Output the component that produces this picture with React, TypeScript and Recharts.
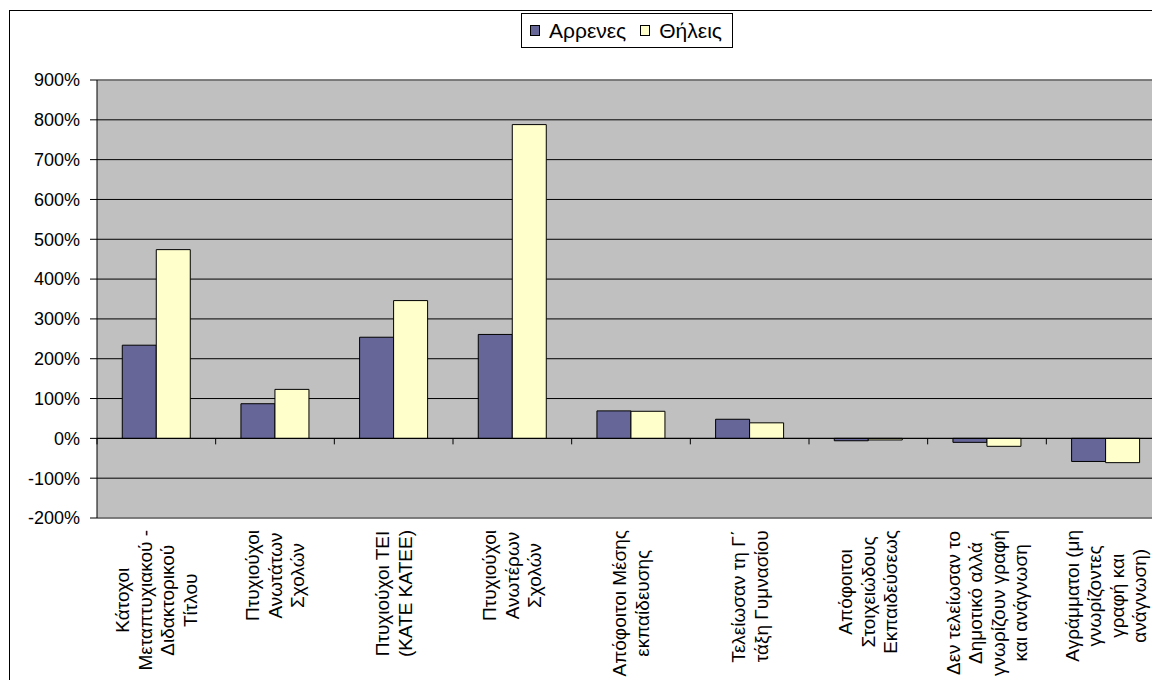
import React from "react";
import {
  BarChart,
  Bar,
  XAxis,
  YAxis,
  CartesianGrid,
  ReferenceLine,
  Legend,
} from "recharts";

// ---- data ----
const categoryLines: string[][] = [
  ["Κάτοχοι", "Μεταπτυχιακού -", "Διδακτορικού", "Τίτλου"],
  ["Πτυχιούχοι", "Ανωτάτων", "Σχολών"],
  ["Πτυχιούχοι ΤΕΙ", "(ΚΑΤΕ ΚΑΤΕΕ)"],
  ["Πτυχιούχοι", "Ανωτέρων", "Σχολών"],
  ["Απόφοιτοι Μέσης", "εκπαίδευσης"],
  ["Τελείωσαν τη Γ΄", "τάξη Γυμνασίου"],
  ["Απόφοιτοι", "Στοιχειώδους", "Εκπαιδεύσεως"],
  ["Δεν τελείωσαν το", "Δημοτικό αλλά", "γνωρίζουν γραφή", "και ανάγνωση"],
  ["Αγράμματοι (μη", "γνωρίζοντες", "γραφή και", "ανάγνωση)"],
];
const categories: string[] = categoryLines.map((l) => l.join(" "));
const arrenes: number[] = [234, 87, 254, 261, 69, 48, -6, -10, -58];
const thileis: number[] = [474, 123, 346, 788, 68, 39, -4, -20, -61];
const yTicks: number[] = [-200, -100, 0, 100, 200, 300, 400, 500, 600, 700, 800, 900];
const seriesNames = ["Αρρενες", "Θήλεις"];

const data = categories.map((c, i) => ({
  name: c,
  arrenes: arrenes[i],
  thileis: thileis[i],
}));

const FONT = '"Liberation Sans", Arial, sans-serif';
const TICK_FS = 18;
const LABEL_FS = 19;
const LEGEND_FS = 21;
const LINE_H = 22.5;

let ctx: CanvasRenderingContext2D | null = null;
function measure(t: string, fs: number): number {
  if (!ctx) ctx = document.createElement("canvas").getContext("2d");
  if (!ctx) return t.length * fs * 0.5;
  ctx.font = `${fs}px "Liberation Sans", Arial, sans-serif`;
  return ctx.measureText(t).width;
}

const CategoryTick = (props: any) => {
  const { x, y, payload } = props;
  const idx = categories.indexOf(payload.value);
  const lines = categoryLines[idx] || [];
  const n = lines.length;
  const w = Math.max(...lines.map((l) => measure(l, LABEL_FS)));
  const cx = -(12 + w / 2);
  return (
    <g transform={`translate(${x},${y}) rotate(-90)`}>
      <text textAnchor="middle" fontSize={LABEL_FS} fontFamily={FONT} fill="#000">
        {lines.map((l, i) => (
          <tspan key={i} x={cx} y={(i - (n - 1) / 2) * LINE_H} dy="0.35em">
            {l}
          </tspan>
        ))}
      </text>
    </g>
  );
};

const ZeroAxis = (props: any) => {
  const { x1, y1, x2, y2 } = props;
  const n = categories.length;
  const step = (x2 - x1) / n;
  const marks = [];
  for (let i = 0; i <= n; i++) {
    const xx = x1 + i * step;
    marks.push(<line key={i} x1={xx} x2={xx} y1={y1} y2={y1 + 6} stroke="#000" strokeWidth={1} />);
  }
  return (
    <g>
      <line x1={x1} y1={y1} x2={x2} y2={y2} stroke="#000" strokeWidth={1} />
      {marks}
    </g>
  );
};

const LegendBox = (props: any) => {
  const payload = props.payload || [];
  return (
    <div
      style={{
        display: "inline-flex",
        alignItems: "center",
        border: "1px solid #000",
        background: "#fff",
        padding: "0 10px 0 8px",
        height: 33,
        fontFamily: FONT,
        fontSize: LEGEND_FS,
        lineHeight: "33px",
        color: "#000",
        boxSizing: "content-box",
      }}
    >
      {payload.map((e: any, i: number) => (
        <span key={i} style={{ display: "inline-flex", alignItems: "center", marginLeft: i === 0 ? 0 : 14 }}>
          <span
            style={{
              display: "inline-block",
              width: 8,
              height: 9,
              background: e.color,
              border: "1px solid #000",
              marginRight: 9,
            }}
          />
          <span>{e.value}</span>
        </span>
      ))}
    </div>
  );
};

export default function App() {
  return (
    <div style={{ width: 1152, height: 672, overflow: "hidden", position: "relative", fontFamily: FONT }}>
      <div
        style={{
          position: "absolute",
          left: 1,
          top: 2,
          width: 1220,
          height: 740,
          border: "1px solid #000",
          background: "#fff",
        }}
      >
        <BarChart
          width={1170}
          height={700}
          data={data}
          margin={{ top: 69, right: 15, left: 0, bottom: 0 }}
          barCategoryGap="21.3%"
          barGap={0}
        >
          <CartesianGrid horizontal vertical={false} stroke="#000" fill="#C0C0C0" fillOpacity={1} />
          <ReferenceLine y={900} stroke="#808080" strokeWidth={1.5} ifOverflow="visible" />
          <ReferenceLine y={-200} stroke="#808080" strokeWidth={1.5} ifOverflow="visible" />
          <XAxis
            dataKey="name"
            type="category"
            axisLine={false}
            tickLine={false}
            tickSize={0}
            tickMargin={0}
            height={193}
            interval={0}
            tick={<CategoryTick />}
          />
          <YAxis
            type="number"
            domain={[-200, 900]}
            ticks={yTicks}
            interval={0}
            width={87}
            tickFormatter={(v: number) => `${v}%`}
            axisLine={{ stroke: "#000", strokeWidth: 1 }}
            tickLine={{ stroke: "#000", strokeWidth: 1 }}
            tickSize={7}
            tickMargin={10}
            tick={{ fill: "#000", fontSize: TICK_FS, fontFamily: FONT }}
          />
          <ReferenceLine y={0} shape={<ZeroAxis />} ifOverflow="visible" />
          <Bar dataKey="arrenes" name={seriesNames[0]} fill="#666699" stroke="#000" strokeWidth={1} isAnimationActive={false} />
          <Bar dataKey="thileis" name={seriesNames[1]} fill="#FFFFCC" stroke="#000" strokeWidth={1} isAnimationActive={false} />
          <Legend
            layout="horizontal"
            verticalAlign="middle"
            align="center"
            content={<LegendBox />}
            wrapperStyle={{ top: 2, left: 511, width: "auto", height: "auto" }}
          />
        </BarChart>
      </div>
    </div>
  );
}
